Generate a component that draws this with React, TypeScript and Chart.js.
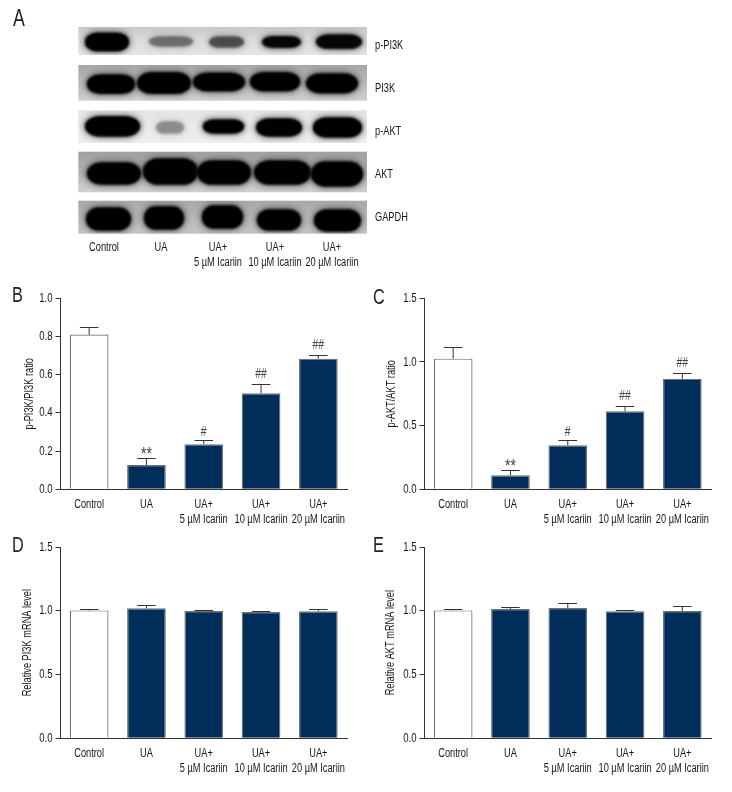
import React, { useEffect, useRef } from "react";
import { Chart, registerables } from "chart.js";

Chart.register(...registerables);

const categories: (string | string[])[] = [
  "Control",
  "UA",
  ["UA+", "5 µM Icariin"],
  ["UA+", "10 µM Icariin"],
  ["UA+", "20 µM Icariin"],
];
const blotRows = ["p-PI3K", "PI3K", "p-AKT", "AKT", "GAPDH"];

const pPI3KDensity = [1, 0.4, 0.55, 0.95, 0.95];
const PI3KDensity = [1, 1, 1, 1, 1];
const pAKTDensity = [1, 0.3, 1, 1, 1];
const AKTDensity = [1, 1, 1, 1, 1];
const GAPDHDensity = [1, 1, 1, 1, 1];

const pPI3KRatio = [0.81, 0.127, 0.236, 0.503, 0.684];
const pPI3KRatioTop = [0.848, 0.164, 0.257, 0.551, 0.702];
const pPI3KSig = ["", "**", "#", "##", "##"];

const pAKTRatio = [1.026, 0.11, 0.346, 0.613, 0.867];
const pAKTRatioTop = [1.118, 0.149, 0.385, 0.652, 0.914];
const pAKTSig = ["", "**", "#", "##", "##"];

const PI3KmRNA = [1.003, 1.019, 0.998, 0.99, 0.996];
const PI3KmRNATop = [1.014, 1.048, 1.003, 1.001, 1.014];

const AKTmRNA = [1.003, 1.014, 1.022, 0.996, 0.998];
const AKTmRNATop = [1.014, 1.03, 1.063, 1.003, 1.035];

const FONT = '"Liberation Sans", sans-serif';
const SQUEEZE = 0.74;
const TEXT = "#161616";
const NAVY = "#002d5a";

// Blot styling: page-pixel layout of the strips and of each band's box.
const STRIPS = [
  { top: 27, bottom: 55, a: "#c8c8c8", b: "#dedede", c: "#e4e4e4" },
  { top: 65, bottom: 100.7, a: "#a6a6a6", b: "#bcbcbc", c: "#cfcfcf" },
  { top: 110.3, bottom: 143, a: "#e4e4e4", b: "#ececec", c: "#eeeeee" },
  { top: 151.7, bottom: 192.3, a: "#a0a0a0", b: "#b4b4b4", c: "#d0d0d0" },
  { top: 200.7, bottom: 233.7, a: "#a8a8a8", b: "#b8b8b8", c: "#c4c4c4" },
];
const BAND_BOXES = [
  [[86, 128, 33.3, 50.7], [150, 192, 37, 46], [210, 243, 37, 47], [263, 300, 36.7, 47.3], [317, 361, 35, 48.3]],
  [[88, 134, 75, 93.3], [138, 190, 72.7, 93.3], [194, 244, 73.3, 90.7], [251, 299, 72.7, 90.7], [307, 357, 74, 92.7]],
  [[86, 139, 116.7, 136], [157, 183, 122, 133], [204, 243, 120, 133], [257, 301, 119, 136], [314, 361, 118, 137]],
  [[88, 140, 163, 184], [144, 197, 159, 184], [198, 250, 161, 184], [255, 310, 161, 184], [312, 362, 162, 186]],
  [[87, 130, 208, 230], [145, 183, 207, 229], [203, 242, 206, 228], [258, 300, 210, 230], [315, 360, 210, 231]],
];
const BLOT_LEFT = 78.3;
const BLOT_RIGHT = 367;
const densities = [pPI3KDensity, PI3KDensity, pAKTDensity, AKTDensity, GAPDHDensity];

function bandSprite(row: number, lane: number, px: number, py: number) {
  const w = 240;
  const h = 120;
  const c = document.createElement("canvas");
  c.width = w;
  c.height = h;
  const g = c.getContext("2d")!;
  const ox = w / 2 - px;
  const oy = h / 2 - py;
  const s = STRIPS[row];
  g.beginPath();
  g.rect(BLOT_LEFT + ox, s.top + oy, BLOT_RIGHT - BLOT_LEFT, s.bottom - s.top);
  g.clip();
  const [x1, x2, y1, y2] = BAND_BOXES[row][lane];
  const d = densities[row][lane];
  const pill = (gx: number, gy: number) => {
    g.beginPath();
    const bw = x2 - x1 + gx * 2;
    const bh = y2 - y1 + gy * 2;
    (g as any).roundRect(x1 - gx + ox, y1 - gy + oy, bw, bh, { x: bw * 0.28, y: bh / 2 });
    g.fill();
  };
  g.filter = "blur(3px)";
  g.fillStyle = `rgba(30,30,30,${0.6 * d})`;
  pill(2.5, 2);
  g.filter = "blur(1px)";
  g.fillStyle = `rgba(0,0,0,${d})`;
  pill(1.2, 0.8);
  return c;
}

const condensePlugin = {
  id: "condense",
  beforeInit(chart: any) {
    const ctx = chart.ctx;
    const orig = ctx.fillText.bind(ctx);
    ctx.fillText = (t: string, x: number, y: number) =>
      orig(t, x, y, ctx.measureText(t).width * SQUEEZE);
  },
};

const stripsPlugin = {
  id: "strips",
  beforeDatasetsDraw(chart: any) {
    const { ctx } = chart;
    ctx.save();
    STRIPS.forEach((s) => {
      const g = ctx.createLinearGradient(0, s.top, 0, s.bottom);
      g.addColorStop(0, s.a);
      g.addColorStop(0.5, s.b);
      g.addColorStop(1, s.c);
      ctx.fillStyle = g;
      ctx.fillRect(BLOT_LEFT, s.top, BLOT_RIGHT - BLOT_LEFT, s.bottom - s.top);
    });
    ctx.restore();
  },
};

const errorPlugin = {
  id: "errors",
  afterDatasetsDraw(chart: any, _a: any, opts: any) {
    const { ctx } = chart;
    const y = chart.scales.y;
    const meta = chart.getDatasetMeta(0);
    ctx.save();
    ctx.strokeStyle = "#333";
    ctx.lineWidth = 1;
    opts.tops.forEach((top: number, i: number) => {
      const bar = meta.data[i];
      const yt = Math.round(y.getPixelForValue(top)) + 0.5;
      const half = bar.width * 0.24;
      ctx.beginPath();
      ctx.moveTo(bar.x, y.getPixelForValue(chart.data.datasets[0].data[i]));
      ctx.lineTo(bar.x, yt);
      ctx.moveTo(bar.x - half, yt);
      ctx.lineTo(bar.x + half, yt);
      ctx.stroke();
      const sig = opts.sig && opts.sig[i];
      if (sig) {
        const star = sig === "**";
        ctx.fillStyle = "#444";
        ctx.font = `${star ? 19 : 14}px ${FONT}`;
        ctx.textAlign = "center";
        ctx.textBaseline = "middle";
        ctx.fillText(sig, bar.x, yt - (star ? 4 : sig === "##" ? 10 : 8));
      }
    });
    ctx.restore();
  },
};

type PanelProps = {
  left: number;
  top: number;
  width: number;
  height: number;
  area: { left: number; right: number; top: number; bottom: number };
  titleOffset: number;
  yMax: number;
  yStep: number;
  yTitle: string;
  values: number[];
  tops: number[];
  sig?: string[];
};

function BarPanel(p: PanelProps) {
  const ref = useRef<HTMLCanvasElement>(null);
  useEffect(() => {
    const chart = new Chart(ref.current!, {
      type: "bar",
      data: {
        labels: categories as any,
        datasets: [
          {
            data: p.values,
            backgroundColor: p.values.map((_, i) => (i === 0 ? "#ffffff" : NAVY)),
            borderColor: "#6e6e6e",
            borderWidth: 1.2,
            barPercentage: 0.675,
            categoryPercentage: 1,
          },
        ],
      },
      options: {
        animation: false,
        responsive: false,
        layout: {
          padding: { left: 0, top: p.area.top, right: p.width - p.area.right, bottom: 0 },
        },
        plugins: {
          legend: { display: false },
          tooltip: { enabled: false },
          errors: { tops: p.tops, sig: p.sig },
        } as any,
        scales: {
          x: {
            grid: { display: false, drawTicks: true, tickLength: 5, tickColor: "#333" } as any,
            border: { color: "#333", width: 1 },
            ticks: {
              autoSkip: false,
              maxRotation: 0,
              minRotation: 0,
              color: TEXT,
              padding: 3,
              font: { family: FONT, size: 12.5, lineHeight: 1.16 },
            },
            afterFit(s: any) {
              s.height = p.height - p.area.bottom;
            },
          },
          y: {
            min: 0,
            max: p.yMax,
            grid: { display: true, drawOnChartArea: false, tickLength: 5, tickColor: "#333" } as any,
            border: { color: "#333", width: 1 },
            ticks: {
              stepSize: p.yStep,
              color: TEXT,
              padding: 3,
              font: { family: FONT, size: 13 },
              callback: (v: any) => Number(v).toFixed(1),
            },
            title: {
              display: true,
              text: p.yTitle,
              color: TEXT,
              font: { family: FONT, size: 12.5, lineHeight: 1.2 },
              padding: { top: p.titleOffset, bottom: 0 },
            },
            afterFit(s: any) {
              s.width = p.area.left;
            },
          },
        },
      },
      plugins: [condensePlugin, errorPlugin],
    } as any);
    return () => chart.destroy();
  }, []);
  return (
    <canvas
      ref={ref}
      width={p.width}
      height={p.height}
      style={{ position: "absolute", left: p.left, top: p.top, width: p.width, height: p.height }}
    />
  );
}

function BlotPanel() {
  const ref = useRef<HTMLCanvasElement>(null);
  useEffect(() => {
    const W = 450;
    const H = 280;
    const AREA = { left: 75.5, right: 360.5, top: 24.5, bottom: 239.5 };
    const scaleX = (i: number) => AREA.left + ((AREA.right - AREA.left) / 5) * (i + 0.5);
    const scaleY = (i: number) => AREA.top + ((AREA.bottom - AREA.top) / 5) * (i + 0.5);
    const points: { x: number; y: number }[] = [];
    const sprites: HTMLCanvasElement[] = [];
    densities.forEach((row, r) =>
      row.forEach((_, l) => {
        points.push({ x: l, y: r });
        sprites.push(bandSprite(r, l, scaleX(l), scaleY(r)));
      })
    );
    const chart = new Chart(ref.current!, {
      type: "scatter",
      data: {
        datasets: [
          {
            data: points,
            parsing: false,
            pointStyle: sprites as any,
            pointRadius: 10,
            showLine: false,
            clip: false,
          },
        ],
      },
      options: {
        animation: false,
        responsive: false,
        layout: { padding: { left: AREA.left, top: AREA.top, right: 0, bottom: 0 } },
        plugins: { legend: { display: false }, tooltip: { enabled: false } },
        scales: {
          x: {
            type: "category",
            labels: categories as any,
            offset: true,
            grid: { display: false, drawTicks: false },
            border: { display: false },
            ticks: {
              autoSkip: false,
              maxRotation: 0,
              minRotation: 0,
              color: TEXT,
              padding: 1,
              font: { family: FONT, size: 12.5, lineHeight: 1.16 },
            },
            afterFit(s: any) {
              s.height = H - AREA.bottom;
            },
          },
          y: {
            type: "category",
            labels: blotRows,
            position: "right",
            offset: true,
            grid: { display: false, drawTicks: false },
            border: { display: false },
            ticks: {
              autoSkip: false,
              color: TEXT,
              padding: 14.5,
              font: { family: FONT, size: 12.5 },
            },
            afterFit(s: any) {
              s.width = W - AREA.right;
            },
          },
        },
      },
      plugins: [condensePlugin, stripsPlugin],
    } as any);
    return () => chart.destroy();
  }, []);
  return (
    <canvas
      ref={ref}
      width={450}
      height={280}
      style={{ position: "absolute", left: 0, top: 0, width: 450, height: 280 }}
    />
  );
}

const panelLetters = [
  { t: "A", x: 13, y: 4, s: 24 },
  { t: "B", x: 12, y: 281, s: 22 },
  { t: "C", x: 373, y: 283, s: 22 },
  { t: "D", x: 12, y: 531, s: 22 },
  { t: "E", x: 373, y: 531, s: 22 },
];

export default function App() {
  return (
    <div style={{ position: "absolute", left: 0, top: 0, width: 732, height: 792, background: "#fff", overflow: "hidden" }}>
      <BlotPanel />
      <BarPanel
        left={0}
        top={280}
        width={366}
        height={250}
        area={{ left: 60.5, right: 347, top: 18.3, bottom: 209.3 }}
        titleOffset={22}
        yMax={1}
        yStep={0.2}
        yTitle="p-PI3K/PI3K ratio"
        values={pPI3KRatio}
        tops={pPI3KRatioTop}
        sig={pPI3KSig}
      />
      <BarPanel
        left={366}
        top={280}
        width={366}
        height={250}
        area={{ left: 58.5, right: 345, top: 18.3, bottom: 209.3 }}
        titleOffset={18}
        yMax={1.5}
        yStep={0.5}
        yTitle="p-AKT/AKT ratio"
        values={pAKTRatio}
        tops={pAKTRatioTop}
        sig={pAKTSig}
      />
      <BarPanel
        left={0}
        top={530}
        width={366}
        height={262}
        area={{ left: 60.5, right: 347, top: 17, bottom: 208.3 }}
        titleOffset={20}
        yMax={1.5}
        yStep={0.5}
        yTitle="Relative PI3K mRNA level"
        values={PI3KmRNA}
        tops={PI3KmRNATop}
      />
      <BarPanel
        left={366}
        top={530}
        width={366}
        height={262}
        area={{ left: 58.5, right: 345, top: 17, bottom: 208.3 }}
        titleOffset={17}
        yMax={1.5}
        yStep={0.5}
        yTitle="Relative AKT mRNA level"
        values={AKTmRNA}
        tops={AKTmRNATop}
      />
      {panelLetters.map((l) => (
        <div
          key={l.t}
          style={{
            position: "absolute",
            left: l.x,
            top: l.y,
            fontFamily: FONT,
            fontSize: l.s,
            lineHeight: "28px",
            color: "#222",
            transform: "scaleX(0.74)",
            transformOrigin: "left top",
          }}
        >
          {l.t}
        </div>
      ))}
    </div>
  );
}
